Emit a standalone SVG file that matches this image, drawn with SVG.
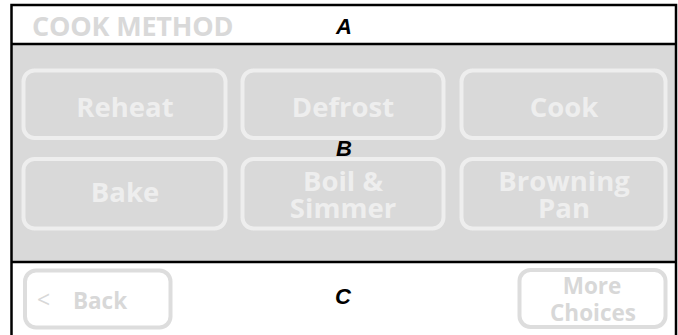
<svg xmlns="http://www.w3.org/2000/svg" width="678" height="335" viewBox="0 0 678 335">
<style>
.btn{fill:none;stroke:#eeeeee;stroke-width:4}
.btnw{fill:none;stroke:#dddddd;stroke-width:4}
.t{font-family:"Open Sans","Liberation Sans",sans-serif;font-weight:bold;font-size:27.5px;fill:#eeeeee;text-anchor:middle}
.tw{font-family:"Open Sans","Liberation Sans",sans-serif;font-weight:bold;font-size:22.5px;fill:#d8d8d8;text-anchor:middle}
.lbl{font-family:"Liberation Sans",Arial,sans-serif;font-weight:bold;font-style:italic;font-size:22px;fill:#000}
</style>
<rect x="0" y="0" width="678" height="335" fill="#fff"/>
<g id="panel">
<rect x="11.5" y="44" width="664.5" height="218" fill="#d9d9d9"/>
<rect x="11.5" y="5" width="664.5" height="335" fill="none" stroke="#000" stroke-width="2.5"/>
<line x1="11.5" y1="44" x2="676" y2="44" stroke="#000" stroke-width="2.5"/>
<line x1="11.5" y1="262" x2="676" y2="262" stroke="#000" stroke-width="2.5"/>
</g>
<g id="header">
<text x="32" y="36" font-family="'Open Sans','Liberation Sans',sans-serif" font-weight="bold" font-size="27" fill="#d9d9d9" letter-spacing="-0.2">COOK METHOD</text>
</g>
<g id="reheat"><rect class="btn" x="23.5" y="70.5" width="202" height="67.5" rx="11"/><text class="t" x="125" y="117">Reheat</text></g>
<g id="defrost"><rect class="btn" x="242.5" y="70.5" width="201" height="67.5" rx="11"/><text class="t" x="343" y="117">Defrost</text></g>
<g id="cook"><rect class="btn" x="461.5" y="70.5" width="204" height="67.5" rx="11"/><text class="t" x="564" y="117">Cook</text></g>
<g id="bake"><rect class="btn" x="23.5" y="159" width="202" height="69.5" rx="11"/><text class="t" x="125" y="202">Bake</text></g>
<g id="boil"><rect class="btn" x="242.5" y="159" width="201" height="69.5" rx="11"/><text class="t" y="191"><tspan x="343">Boil &amp;</tspan><tspan x="343" dy="27">Simmer</tspan></text></g>
<g id="browning"><rect class="btn" x="461.5" y="159" width="204" height="69.5" rx="11"/><text class="t" y="191"><tspan x="564">Browning</tspan><tspan x="564" dy="27">Pan</tspan></text></g>
<g id="back"><rect class="btnw" x="25" y="270.5" width="145.5" height="57" rx="11"/><text x="37" y="308" font-family="'Open Sans','Liberation Sans',sans-serif" font-size="23" fill="#d8d8d8">&lt;</text><text class="tw" x="100" y="309">Back</text></g>
<g id="more"><rect class="btnw" x="519.5" y="270" width="146" height="57" rx="11"/><text class="tw" y="294"><tspan x="592">More</tspan><tspan x="593" dy="27">Choices</tspan></text></g>
<g id="labels">
<text class="lbl" x="336" y="34">A</text>
<text class="lbl" x="336" y="156">B</text>
<text class="lbl" x="335" y="304">C</text>
</g>
</svg>
